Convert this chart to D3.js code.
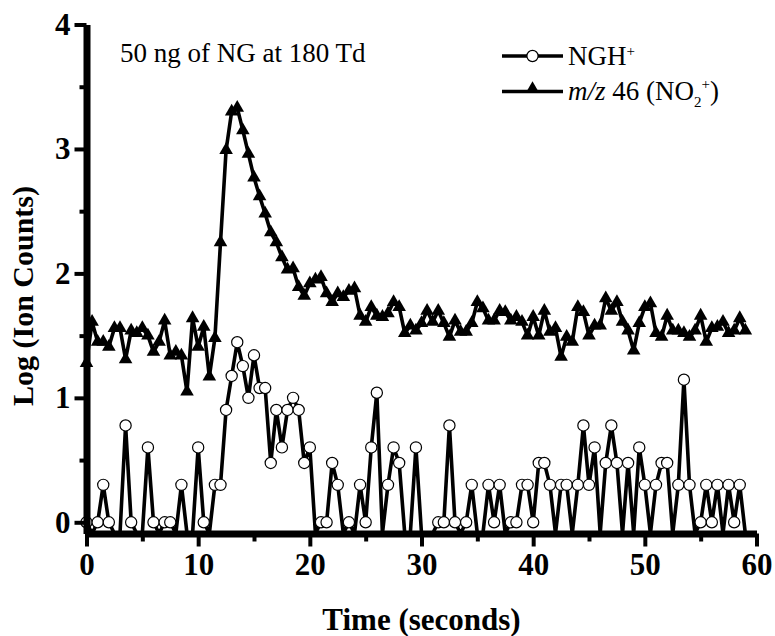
<!DOCTYPE html>
<html><head><meta charset="utf-8">
<script src="https://cdn.jsdelivr.net/npm/d3@7"></script>
<style>body{margin:0;background:#fff}</style>
</head><body><svg id="c" width="775" height="636"></svg>
<script>
// sampling times (seconds)
const times = [0,0.5,1,1.5,2,2.5,3,3.5,4,4.5,5,5.5,6,6.5,7,7.5,8,8.5,9,9.5,
10,10.5,11,11.5,12,12.5,13,13.5,14,14.5,15,15.5,16,16.5,17,17.5,18,18.5,19,19.5,
20,20.5,21,21.5,22,22.5,23,23.5,24,24.5,25,25.5,26,26.5,27,27.5,28,28.5,29,29.5,
30,30.5,31,31.5,32,32.5,33,33.5,34,34.5,35,35.5,36,36.5,37,37.5,38,38.5,39,39.5,
40,40.5,41,41.5,42,42.5,43,43.5,44,44.5,45,45.5,46,46.5,47,47.5,48,48.5,49,49.5,
50,50.5,51,51.5,52,52.5,53,53.5,54,54.5,55,55.5,56,56.5,57,57.5,58,58.5,59];
// NGH+ log counts (null = zero counts, line falls off the axis)
const ngh = [0,null,0,0.301,0,null,null,0.778,0,null,null,0.602,0,null,0,0,null,0.301,null,null,
0.602,0,null,0.301,0.301,0.903,1.176,1.447,1.255,1.0,1.342,1.079,1.079,0.477,0.903,0.602,0.903,1.0,0.903,0.477,
0.602,null,0,0,0.477,0.301,null,0,null,0.301,0,0.602,1.041,null,0.301,0.602,0.477,null,null,0.602,
null,null,null,0,0,0.778,0,null,0,0.301,null,null,0.301,0,0.301,null,0,0,0.301,0.301,
0,0.477,0.477,0.301,null,0.301,0.301,null,0.301,0.778,0.301,0.602,null,0.477,0.778,0.477,null,0.477,null,0.602,
0.301,null,0.301,0.477,0.477,null,0.301,1.146,0.301,null,0,0.301,0,0.301,null,0.301,0,0.301,null];
// m/z 46 (NO2+) log counts
const no2 = [1.28,1.61,1.45,1.45,1.41,1.56,1.56,1.31,1.54,1.52,1.56,1.50,1.37,1.45,1.62,1.34,1.37,1.34,1.05,1.64,
1.41,1.57,1.17,1.48,2.25,2.99,3.30,3.33,3.15,2.96,2.77,2.62,2.48,2.33,2.25,2.13,2.03,2.04,1.89,1.82,
1.92,1.95,1.97,1.84,1.77,1.84,1.81,1.86,1.88,1.66,1.61,1.73,1.66,1.65,1.68,1.77,1.73,1.52,1.58,1.54,
1.60,1.70,1.61,1.70,1.60,1.49,1.62,1.53,1.53,1.60,1.77,1.72,1.62,1.62,1.70,1.69,1.62,1.65,1.61,1.50,
1.65,1.50,1.70,1.53,1.56,1.33,1.49,1.45,1.73,1.69,1.50,1.58,1.58,1.80,1.70,1.77,1.61,1.54,1.38,1.60,
1.73,1.76,1.52,1.49,1.66,1.54,1.54,1.52,1.49,1.54,1.66,1.45,1.56,1.57,1.61,1.52,1.54,1.64,1.54];
const xTicks = [0,10,20,30,40,50,60];
const xMinor = [5,15,25,35,45,55];
const yTicks = [0,1,2,3,4];
const yMinor = [0.5,1.5,2.5,3.5];

const svg = d3.select("#c");
const serif = "'Liberation Serif','Times New Roman',serif";
const x = d3.scaleLinear().domain([0,60]).range([86.5,756.5]);
const y = d3.scaleLinear().domain([-0.09,4]).range([533.5,24.5]).clamp(true);

const yv = v => v === null ? y(-1) : y(v);
const line = d3.line().x((d,i)=>x(times[i])).y(d=>yv(d));

const g = svg.append("g");
// NGH+ series
g.append("path").datum(ngh).attr("d",line)
  .attr("fill","none").attr("stroke","#000").attr("stroke-width",3.6).attr("stroke-linejoin","round");
g.selectAll("circle.n").data(ngh.map((v,i)=>({v,t:times[i]})).filter(d=>d.v!==null))
  .join("circle").attr("class","n").attr("cx",d=>x(d.t)).attr("cy",d=>y(d.v)).attr("r",5.6)
  .attr("fill","#fff").attr("stroke","#000").attr("stroke-width",1.2);
// NO2+ series
g.append("path").datum(no2).attr("d",line)
  .attr("fill","none").attr("stroke","#000").attr("stroke-width",3.6).attr("stroke-linejoin","round");
const tri = d3.symbol().type(d3.symbolTriangle).size(80);
g.selectAll("path.t").data(no2.map((v,i)=>({v,t:times[i]})))
  .join("path").attr("class","t").attr("d",tri)
  .attr("transform",d=>`translate(${x(d.t)},${y(d.v)})`).attr("fill","#000");

// axes
function styleAxis(sel, w){
  sel.select(".domain").attr("stroke-width",w).attr("stroke","#000");
  sel.selectAll(".tick line").attr("stroke-width",4).attr("stroke","#000");
  sel.selectAll(".tick text").attr("font-family",serif).attr("font-weight","bold").attr("font-size",31).attr("fill","#000");
}
const xa = svg.append("g").attr("transform","translate(0,533.5)")
  .call(d3.axisBottom(x).tickValues(xTicks).tickSize(13).tickSizeOuter(0).tickPadding(6).tickFormat(d3.format("d")));
styleAxis(xa,7);
const xm = svg.append("g").attr("transform","translate(0,533.5)")
  .call(d3.axisBottom(x).tickValues(xMinor).tickSize(8).tickFormat(""));
xm.select(".domain").remove(); xm.selectAll(".tick line").attr("stroke-width",4);
const ya = svg.append("g").attr("transform","translate(86.5,0)")
  .call(d3.axisLeft(y).tickValues(yTicks).tickSize(12).tickSizeOuter(0).tickPadding(4).tickFormat(d3.format("d")));
styleAxis(ya,7);
const ym = svg.append("g").attr("transform","translate(86.5,0)")
  .call(d3.axisLeft(y).tickValues(yMinor).tickSize(7).tickFormat(""));
ym.select(".domain").remove(); ym.selectAll(".tick line").attr("stroke-width",4);

// axis titles
svg.append("text").attr("x",421.5).attr("y",630).attr("text-anchor","middle")
  .attr("font-family",serif).attr("font-weight","bold").attr("font-size",31).text("Time (seconds)");
svg.append("text").attr("transform","translate(33,296) rotate(-90)").attr("text-anchor","middle")
  .attr("font-family",serif).attr("font-weight","bold").attr("font-size",30).text("Log (Ion Counts)");

// annotation
svg.append("text").attr("x",120).attr("y",62).attr("font-family",serif).attr("font-size",27).text("50 ng of NG at 180 Td");

// legend
const lg = svg.append("g");
lg.append("line").attr("x1",502).attr("x2",563).attr("y1",56).attr("y2",56).attr("stroke","#000").attr("stroke-width",3.6);
lg.append("circle").attr("cx",532.5).attr("cy",56).attr("r",5.6).attr("fill","#fff").attr("stroke","#000").attr("stroke-width",1.2);
const t1 = lg.append("text").attr("x",568).attr("y",65).attr("font-family",serif).attr("font-size",27);
t1.append("tspan").text("NGH");
t1.append("tspan").attr("font-size",15).attr("dy",-9).text("+");
lg.append("line").attr("x1",502).attr("x2",563).attr("y1",91.5).attr("y2",91.5).attr("stroke","#000").attr("stroke-width",3.6);
lg.append("path").attr("d",tri).attr("transform","translate(532.5,89)").attr("fill","#000");
const t2 = lg.append("text").attr("x",568).attr("y",100).attr("font-family",serif).attr("font-size",27);
t2.append("tspan").attr("font-style","italic").text("m/z");
t2.append("tspan").text(" 46 (NO");
t2.append("tspan").attr("font-size",15).attr("dy",7).text("2");
t2.append("tspan").attr("font-size",15).attr("dy",-18).text("+");
t2.append("tspan").attr("dy",11).text(")");
</script></body></html>
